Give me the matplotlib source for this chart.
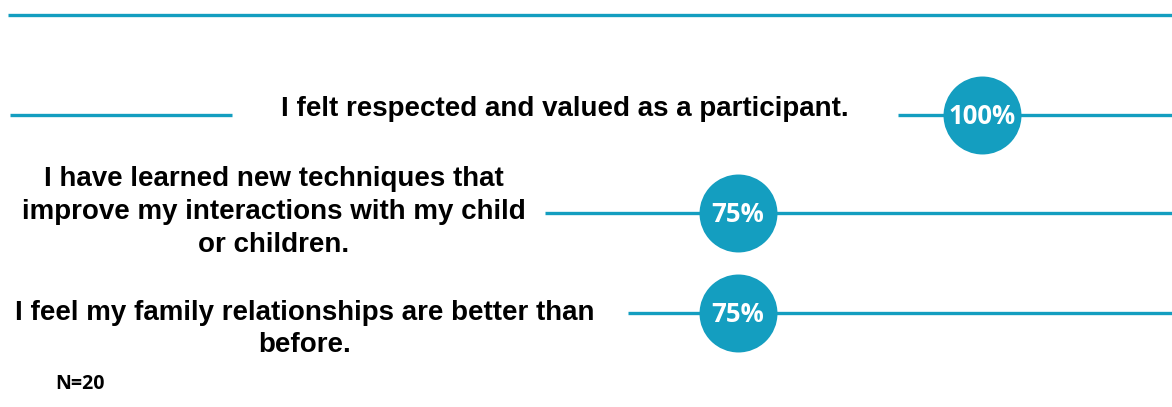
import matplotlib.pyplot as plt

# survey statements and share of agreement
statements = [
    "I felt respected and valued as a participant.",
    "I have learned new techniques that\nimprove my interactions with my child\nor children.",
    "I feel my family relationships are better than\nbefore.",
]
values = [100, 75, 75]
note = "N=20"

BLUE = "#149EC0"

# layout (pixel rows, y grows downward)
row_y = [115, 213, 313]
text_x = [565, 274, 305]
text_y = [109, 212, 329]
left_seg = [(10, 232), None, None]
right_start = [898, 545, 628]

W, H = 1172, 407
fig = plt.figure(figsize=(W / 100, H / 100), dpi=100)
ax = fig.add_axes([0, 0, 1, 1])
# value axis: 0% at px 6, 100% at px 982
px_per_unit = 9.76
x0 = 6
ax.set_xlim(-x0 / px_per_unit, (W - x0) / px_per_unit)
ax.set_ylim(H, 0)
ax.axis("off")


def px(x):
    return (x - x0) / px_per_unit


# top rule
ax.plot([px(8), px(W)], [15, 15], color=BLUE, lw=2.4, solid_capstyle="butt")

for i, (label, v) in enumerate(zip(statements, values)):
    y = row_y[i]
    if left_seg[i]:
        a, b = left_seg[i]
        ax.plot([px(a), px(b)], [y, y], color=BLUE, lw=2.4, solid_capstyle="butt")
    ax.plot([px(right_start[i]), px(W)], [y, y], color=BLUE, lw=2.4,
            solid_capstyle="butt")
    ax.scatter([v], [y], s=3150, color=BLUE, zorder=3, linewidths=0)
    ax.text(v, y + 1, f"{v}%", ha="center", va="center", color="white",
            fontsize=18.5, fontweight="bold", family="Open Sans", zorder=4)
    ax.text(px(text_x[i]), text_y[i], label, ha="center", va="center",
            fontsize=20, fontweight="bold", family="Liberation Sans",
            linespacing=1.35)

ax.text(px(55), 384, note, ha="left", va="center", fontsize=14,
        fontweight="bold", family="Open Sans")

fig.savefig("out.png", dpi=100)
